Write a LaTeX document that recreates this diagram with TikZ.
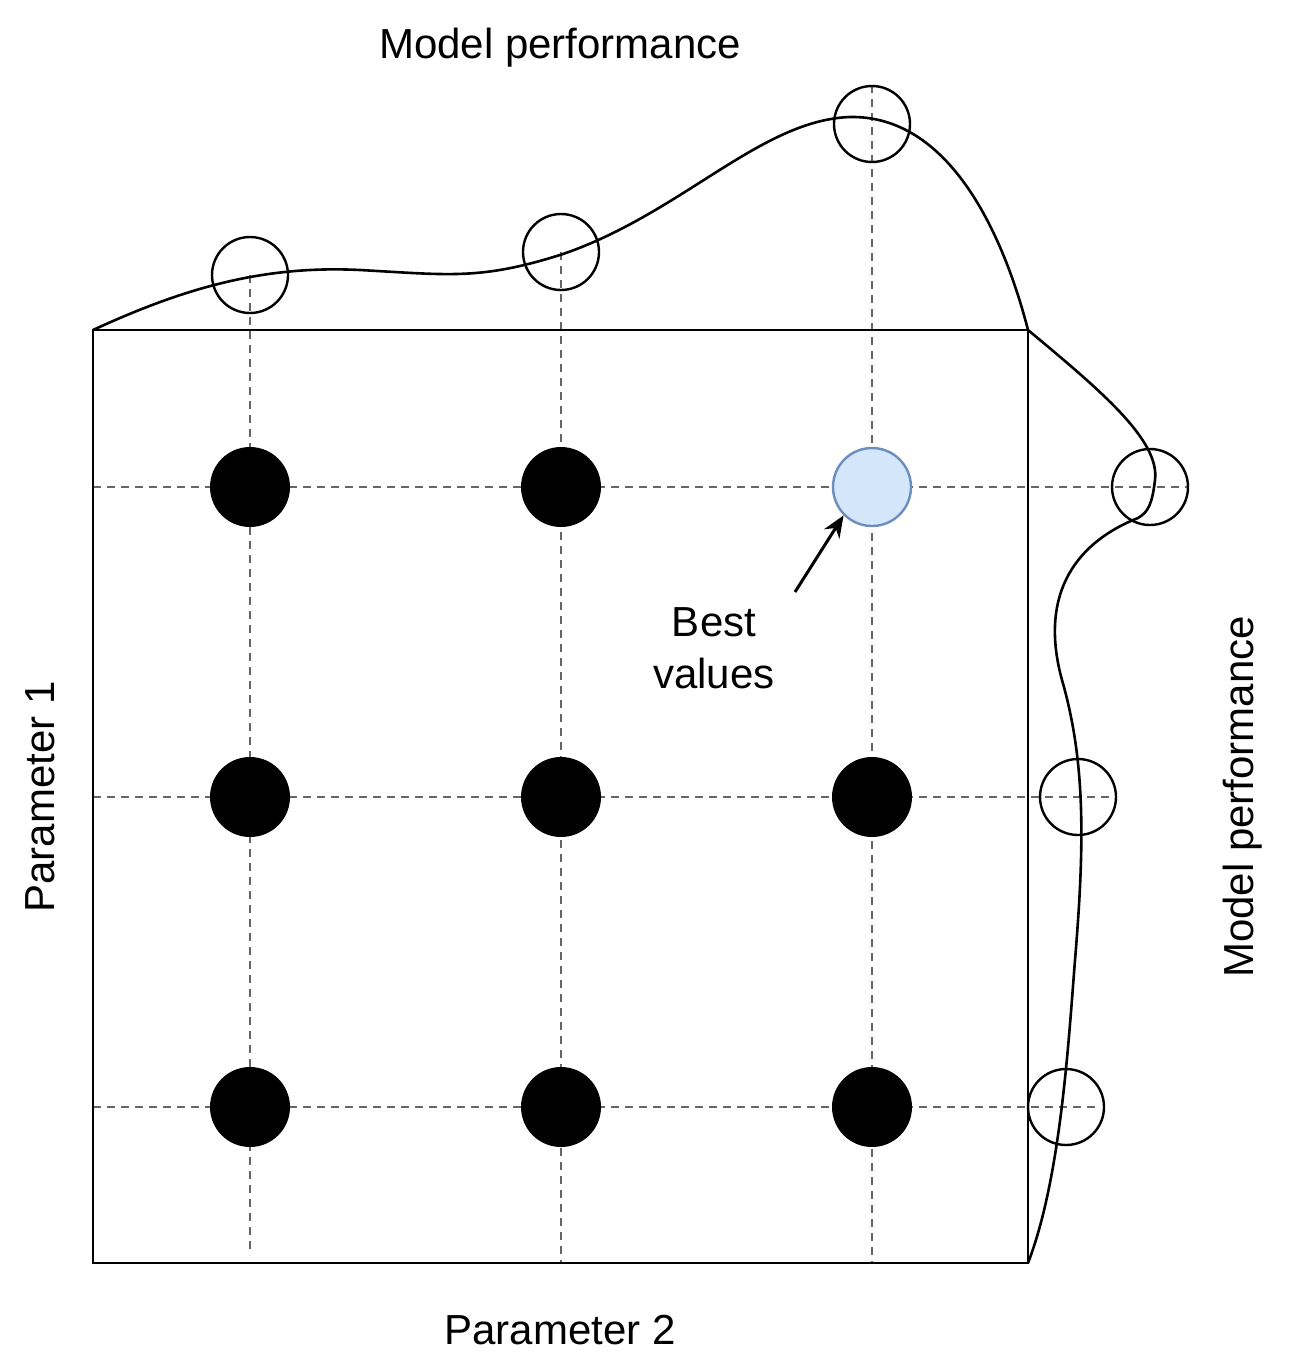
\documentclass[tikz,border=0pt]{standalone}
\usepackage{fontspec}
\setmainfont{Liberation Sans}
\usetikzlibrary{arrows.meta}
\definecolor{bestfill}{HTML}{D4E6FA}
\definecolor{beststroke}{HTML}{6C8EBF}
\begin{document}
\begin{tikzpicture}[x=1pt,y=-1pt,
  grid/.style={draw=gray!80!black,line width=2pt,dash pattern=on 8pt off 6pt},
  dot/.style={circle,fill=black,minimum size=80pt,inner sep=0pt},
  ring/.style={circle,draw=black,line width=2.4pt,minimum size=76pt,inner sep=0pt},
  lbl/.style={font=\fontsize{42}{52}\selectfont}]
\useasboundingbox (0,0) rectangle (1301,1371);
% grid lines
\draw[grid] (250,275) -- (250,1255);
\draw[grid] (561,252) -- (561,1263);
\draw[grid] (872,85) -- (872,1263);
\draw[grid] (93,487) -- (1188,487);
\draw[grid] (93,797) -- (1115,797);
\draw[grid] (93,1107) -- (1100,1107);
% box
\draw[line width=2.6pt] (93,330) rectangle (1028,1263);
% curves
\draw[line width=2.6pt] (93,330) .. controls (180,290) and (260,265) .. (360,270)
  .. controls (450,275) and (480,280) .. (560,255)
  .. controls (680,215) and (760,120) .. (850,117)
  .. controls (960,115) and (1010,260) .. (1028,330);
\draw[line width=2.6pt] (1028,330) .. controls (1100,390) and (1160,440) .. (1155,480)
  .. controls (1152,505) and (1148,512) .. (1138,518)
  .. controls (1070,545) and (1040,600) .. (1062,680)
  .. controls (1085,760) and (1085,840) .. (1075,960)
  .. controls (1068,1050) and (1060,1180) .. (1028,1263);
% rings
\node[ring] (t1) at (250,275) {};
\node[ring] (t2) at (561,252) {};
\node[ring] (t3) at (872,124) {};
\node[ring] (r1) at (1150,487) {};
\node[ring] (r2) at (1078,797) {};
\node[ring] (r3) at (1066,1107) {};
% dots
\foreach \x/\n in {250/a,561/b}{\node[dot] (\n1) at (\x,487) {};}
\foreach \x/\n in {250/a,561/b,872/c}{\node[dot] (\n2) at (\x,797) {}; \node[dot] (\n3) at (\x,1107) {};}
\node[circle,fill=bestfill,draw=beststroke,line width=2.4pt,minimum size=78pt,inner sep=0pt] (best) at (872,487) {};
% labels
\node[lbl] (mp) at (560,48) {Model performance};
\node[lbl] (p2) at (560,1330) {Parameter 2};
\node[lbl,rotate=90] (p1) at (40,797) {Parameter 1};
\node[lbl,rotate=90] (mp2) at (1243,797) {Model performance};
\node[lbl,align=center] (bv) at (714,648) {Best\\values};
\coordinate (as) at (795,592);
\draw[line width=3pt,-{Stealth[length=22pt,width=18pt]}] (as) -- (best.south west);
\end{tikzpicture}
\end{document}
